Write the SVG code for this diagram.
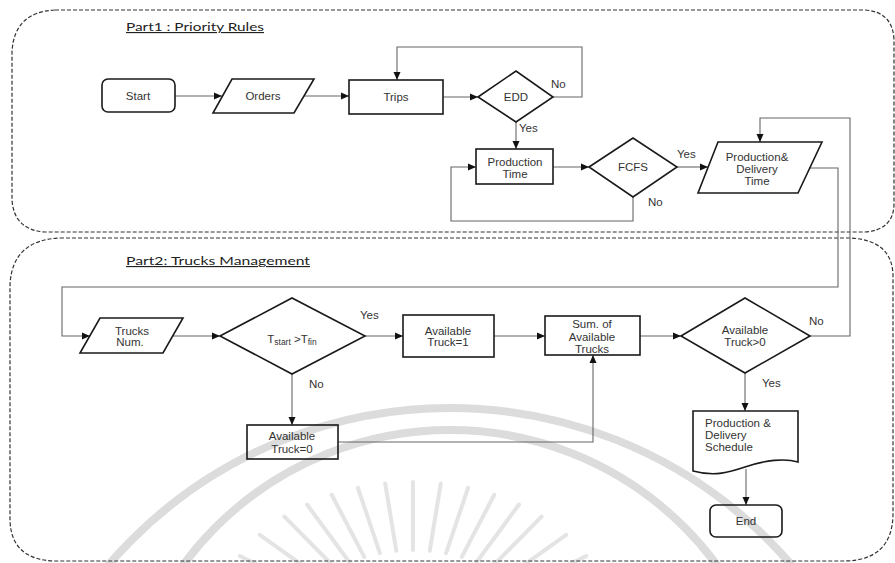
<svg xmlns="http://www.w3.org/2000/svg" width="895" height="563" viewBox="0 0 895 563">
<style>
.frame{fill:none;stroke:#333;stroke-width:1.2;stroke-dasharray:4 2}
.title{font-family:Lato,"Liberation Sans",sans-serif;fill:#222;text-decoration:underline}
.shape{fill:none;stroke:#1a1a1a;stroke-width:1.6}
.conn{fill:none;stroke:#666;stroke-width:1.1}
text{font-family:"Liberation Sans",Arial,sans-serif;font-size:11.5px;fill:#333}
.c{text-anchor:middle}
.band{fill:none;stroke:#dcdcdc;stroke-width:8}
.ray{stroke:#e4e4e4;stroke-width:4;stroke-linecap:round}
</style>
<defs>
<marker id="ah" markerWidth="8" markerHeight="8" refX="8" refY="4" orient="auto" markerUnits="userSpaceOnUse">
<path d="M0,0.5 L8,4 L0,7.5 z" fill="#111"/>
</marker>
</defs>
<rect width="895" height="563" fill="#fff"/>
<g id="watermark">
<circle class="band" cx="450" cy="858" r="450"/>
<circle class="band" cx="450" cy="761" r="331"/>
<line class="ray" x1="413" y1="482" x2="413" y2="550"/>
<line class="ray" x1="440.8" y1="483.4" x2="429.7" y2="550.8"/>
<line class="ray" x1="385.2" y1="483.4" x2="396.3" y2="550.8"/>
<line class="ray" x1="468.1" y1="487.8" x2="446.1" y2="553.1"/>
<line class="ray" x1="357.9" y1="487.8" x2="379.9" y2="553.1"/>
<line class="ray" x1="494.3" y1="494.8" x2="461.8" y2="556.9"/>
<line class="ray" x1="331.7" y1="494.8" x2="364.2" y2="556.9"/>
<line class="ray" x1="519" y1="504.5" x2="476.6" y2="562.2"/>
<line class="ray" x1="307" y1="504.5" x2="349.4" y2="562.2"/>
<line class="ray" x1="541.6" y1="516.6" x2="490.1" y2="568.7"/>
<line class="ray" x1="284.4" y1="516.6" x2="335.9" y2="568.7"/>
<line class="ray" x1="566.2" y1="534.8" x2="504.9" y2="578.6"/>
<line class="ray" x1="259.8" y1="534.8" x2="321.1" y2="578.6"/>
<line class="ray" x1="586.2" y1="556" x2="516.9" y2="590"/>
<line class="ray" x1="239.8" y1="556" x2="309.1" y2="590"/>
</g>
<g id="part1">
<path class="frame" d="M55,10 H865 Q893,12 894,40 V205 Q893,230 865,232 H45 Q14,230 12,200 V52 Q14,12 55,10 Z"/>
<text class="title" x="126" y="31" font-size="13" textLength="138" lengthAdjust="spacingAndGlyphs">Part1 : Priority Rules</text>
</g>
<g id="part2">
<path class="frame" d="M60,238 H850 Q892,240 893,275 V515 Q892,560 845,561 H55 Q11,560 10,520 V285 Q12,240 60,238 Z"/>
<text class="title" x="126" y="265" font-size="14" textLength="184" lengthAdjust="spacingAndGlyphs">Part2: Trucks Management</text>
</g>
<g id="connectors">
<path class="conn" marker-end="url(#ah)" d="M175,96 H222"/>
<path class="conn" marker-end="url(#ah)" d="M304,96 H349"/>
<path class="conn" marker-end="url(#ah)" d="M443,97 H478"/>
<path class="conn" marker-end="url(#ah)" d="M553,97 H582 V47 H397 V80"/>
<path class="conn" marker-end="url(#ah)" d="M516,122 V149"/>
<path class="conn" marker-end="url(#ah)" d="M553,167 H589"/>
<path class="conn" marker-end="url(#ah)" d="M633,197 V221 H451 V167 H476"/>
<path class="conn" marker-end="url(#ah)" d="M677,167 H708"/>
<path class="conn" marker-end="url(#ah)" d="M810,336 H850 V118 H760 V142"/>
<path class="conn" marker-end="url(#ah)" d="M810,168 H838 V287 H62 V336 H90"/>
<path class="conn" marker-end="url(#ah)" d="M173,336 H220"/>
<path class="conn" marker-end="url(#ah)" d="M365,336 H403"/>
<path class="conn" marker-end="url(#ah)" d="M292,374 V425"/>
<path class="conn" marker-end="url(#ah)" d="M338,442 H593 V355"/>
<path class="conn" marker-end="url(#ah)" d="M494,336 H545"/>
<path class="conn" marker-end="url(#ah)" d="M640,336 H681"/>
<path class="conn" marker-end="url(#ah)" d="M745,373 V411"/>
<path class="conn" marker-end="url(#ah)" d="M746,469 V505"/>
<text x="551" y="88">No</text>
<text x="519" y="132">Yes</text>
<text x="677" y="158">Yes</text>
<text x="648" y="206">No</text>
<text x="360" y="319">Yes</text>
<text x="309" y="388">No</text>
<text x="809" y="325">No</text>
<text x="762" y="387">Yes</text>
</g>
<g id="start">
<rect class="shape" x="102" y="79" width="73" height="33" rx="6"/>
<text class="c" x="138" y="100">Start</text>
</g>
<g id="orders">
<polygon class="shape" points="232,79 314,79 294,113 213,113"/>
<text class="c" x="263" y="100">Orders</text>
</g>
<g id="trips">
<rect class="shape" x="349" y="80" width="94" height="34"/>
<text class="c" x="396" y="101">Trips</text>
</g>
<g id="edd">
<polygon class="shape" points="478,97 516,71 553,97 516,122"/>
<text class="c" x="516" y="101">EDD</text>
</g>
<g id="production-time">
<rect class="shape" x="476" y="149" width="77" height="35"/>
<text class="c" x="515" y="166">Production</text>
<text class="c" x="515" y="178">Time</text>
</g>
<g id="fcfs">
<polygon class="shape" points="589,167 633,138 677,167 633,197"/>
<text class="c" x="633" y="171">FCFS</text>
</g>
<g id="production-delivery-time">
<polygon class="shape" points="718,142 822,142 798,193 698,193"/>
<text class="c" x="757" y="161">Production&amp;</text>
<text class="c" x="757" y="173">Delivery</text>
<text class="c" x="757" y="185">Time</text>
</g>
<g id="trucks-num">
<polygon class="shape" points="100,318 183,318 163,353 80,353"/>
<text class="c" x="132" y="335">Trucks</text>
<text class="c" x="130" y="346">Num.</text>
</g>
<g id="tstart-tfin">
<polygon class="shape" points="220,336 292,298 365,336 292,374"/>
<text class="c" x="292" y="343">T<tspan font-size="8.5px" dy="2">start</tspan><tspan dy="-2"> &gt;T</tspan><tspan font-size="8.5px" dy="2">fin</tspan></text>
</g>
<g id="available-truck-1">
<rect class="shape" x="403" y="315" width="91" height="42"/>
<text class="c" x="448" y="335">Available</text>
<text class="c" x="448" y="346">Truck=1</text>
</g>
<g id="available-truck-0">
<rect class="shape" x="247" y="425" width="91" height="34"/>
<text class="c" x="292" y="440">Available</text>
<text class="c" x="292" y="453">Truck=0</text>
</g>
<g id="sum-available">
<rect class="shape" x="545" y="316" width="95" height="39"/>
<text class="c" x="592" y="328">Sum.  of</text>
<text class="c" x="592" y="340.5">Available</text>
<text class="c" x="592" y="353">Trucks</text>
</g>
<g id="available-gt0">
<polygon class="shape" points="681,336 745,298 810,336 745,373"/>
<text class="c" x="745" y="334">Available</text>
<text class="c" x="745" y="346">Truck&gt;0</text>
</g>
<g id="schedule">
<path class="shape" d="M693,411 H798 V462 C785,458 765,460 745,467 C730,472 715,477 693,471 Z"/>
<text x="705" y="427">Production &amp;</text>
<text x="705" y="439">Delivery</text>
<text x="705" y="451">Schedule</text>
</g>
<g id="end">
<rect class="shape" x="710" y="505" width="72" height="32" rx="6"/>
<text class="c" x="746" y="525">End</text>
</g>
</svg>
